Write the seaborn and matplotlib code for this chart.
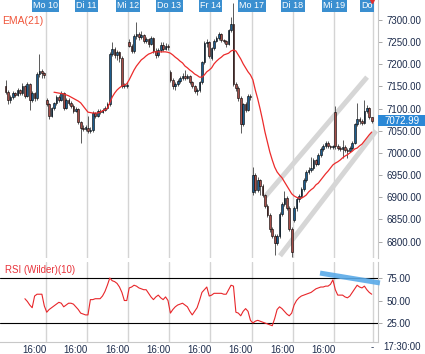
import numpy as np
import pandas as pd
import matplotlib
matplotlib.use("Agg")
import matplotlib.pyplot as plt
from matplotlib import transforms
from matplotlib.patches import Rectangle
import seaborn as sns

### DATA - 30 min candles, Fr 7 .. Mi 19 (17 bars per day)

day_labels = ["Mo 10", "Di 11", "Mi 12", "Do 13", "Fr 14", "Mo 17", "Di 18", "Mi 19", "Do"]
day_starts = [17, 34, 51, 68, 85, 102, 119, 136, 152]
time_ticks = [12, 29, 46, 63, 80, 97, 114, 131]
time_labels = ["16:00"] * 8

open_ = [
    7152, 7138, 7120, 7126, 7135, 7131, 7142, 7135, 7151, 7129, 7156, 7120, 7135, 7124, 7178, 7185, 7180,
    7120, 7110, 7083, 7101, 7113, 7126, 7120, 7135, 7101, 7120, 7113, 7106, 7095, 7099, 7070, 7056, 7054,
    7056, 7050, 7052, 7090, 7083, 7095, 7092, 7097, 7101, 7110, 7223, 7235, 7221, 7228, 7214, 7151, 7151,
    7250, 7241, 7230, 7264, 7268, 7262, 7266, 7253, 7257, 7246, 7259, 7230, 7221, 7232, 7244, 7235, 7241,
    7183, 7165, 7151, 7156, 7162, 7169, 7174, 7169, 7174, 7160, 7151, 7140, 7142, 7160, 7205, 7248, 7250,
    7214, 7237, 7253, 7259, 7268, 7255, 7253, 7246, 7277, 7291, 7156, 7147, 7124, 7065, 7110, 7097, 7129,
    6912, 6950, 6917, 6939, 6926, 6905, 6880, 6860, 6829, 6813, 6797, 6813, 6862, 6885, 6898, 6876, 6829,
    6849, 6876, 6896, 6903, 6919, 6939, 6957, 6962, 6966, 6984, 6975, 6996, 7009, 7016, 7023, 7016, 7014,
    7092, 7016, 7011, 7009, 7014, 7007, 7005, 7011, 7023, 7065, 7077, 7072, 7068, 7095, 7101, 7081,
]
high = [
    7165, 7142, 7130, 7140, 7138, 7147, 7145, 7158, 7153, 7160, 7158, 7140, 7138, 7182, 7224, 7190, 7183,
    7125, 7113, 7104, 7116, 7130, 7130, 7140, 7138, 7124, 7123, 7118, 7110, 7104, 7101, 7073, 7062, 7063,
    7083, 7058, 7094, 7092, 7099, 7098, 7101, 7105, 7116, 7228, 7250, 7240, 7233, 7230, 7218, 7158, 7160,
    7256, 7246, 7268, 7295, 7272, 7275, 7268, 7262, 7260, 7263, 7262, 7236, 7236, 7250, 7250, 7248, 7246,
    7186, 7168, 7160, 7166, 7173, 7180, 7187, 7178, 7176, 7163, 7153, 7146, 7163, 7208, 7252, 7258, 7253,
    7240, 7257, 7264, 7272, 7270, 7258, 7254, 7280, 7307, 7338, 7160, 7150, 7128, 7112, 7115, 7132, 7132,
    6968, 6955, 6945, 6942, 6930, 6908, 6885, 6864, 6833, 6818, 6818, 6866, 6890, 6915, 6902, 6880, 6832,
    6880, 6900, 6908, 6923, 6943, 6962, 6968, 6991, 6988, 6987, 7000, 7013, 7020, 7028, 7026, 7019, 7018,
    7106, 7020, 7016, 7029, 7018, 7012, 7015, 7026, 7068, 7113, 7080, 7076, 7120, 7108, 7103, 7082,
]
low = [
    7132, 7110, 7112, 7122, 7126, 7128, 7130, 7131, 7124, 7126, 7097, 7115, 7118, 7120, 7172, 7170, 7170,
    7106, 7076, 7080, 7097, 7108, 7115, 7117, 7097, 7098, 7108, 7102, 7090, 7092, 7066, 7023, 7050, 7050,
    7045, 7045, 7048, 7078, 7080, 7088, 7090, 7094, 7098, 7106, 7218, 7215, 7210, 7205, 7146, 7146, 7147,
    7238, 7225, 7226, 7258, 7255, 7258, 7248, 7248, 7240, 7243, 7226, 7214, 7216, 7228, 7230, 7232, 7233,
    7160, 7145, 7142, 7152, 7158, 7165, 7165, 7166, 7156, 7146, 7135, 7131, 7138, 7156, 7200, 7240, 7215,
    7210, 7233, 7250, 7255, 7250, 7248, 7240, 7243, 7272, 7150, 7140, 7118, 7045, 7060, 7092, 7094, 7120,
    6905, 6910, 6912, 6905, 6900, 6875, 6855, 6822, 6808, 6770, 6792, 6808, 6858, 6880, 6872, 6824, 6765,
    6845, 6870, 6890, 6898, 6915, 6934, 6952, 6958, 6962, 6970, 6972, 6990, 7004, 7012, 7012, 7010, 7009,
    7010, 7006, 7004, 6989, 7002, 6989, 7002, 7006, 7020, 7060, 7066, 7062, 7066, 7090, 7076, 7068,
]
close = [
    7138, 7120, 7126, 7135, 7131, 7142, 7135, 7151, 7129, 7156, 7120, 7135, 7124, 7178, 7185, 7180, 7176,
    7110, 7083, 7101, 7113, 7126, 7120, 7135, 7101, 7120, 7113, 7106, 7095, 7099, 7070, 7056, 7054, 7059,
    7050, 7052, 7090, 7083, 7095, 7092, 7097, 7101, 7110, 7223, 7235, 7221, 7228, 7214, 7151, 7151, 7153,
    7241, 7230, 7264, 7268, 7262, 7266, 7253, 7257, 7246, 7259, 7230, 7221, 7232, 7244, 7235, 7241, 7239,
    7165, 7151, 7156, 7162, 7169, 7174, 7169, 7174, 7160, 7151, 7140, 7142, 7160, 7205, 7248, 7250, 7219,
    7237, 7253, 7259, 7268, 7255, 7253, 7246, 7277, 7291, 7156, 7147, 7124, 7065, 7110, 7097, 7129, 7126,
    6950, 6917, 6939, 6926, 6905, 6880, 6860, 6829, 6813, 6797, 6813, 6862, 6885, 6898, 6876, 6829, 6777,
    6876, 6896, 6903, 6919, 6939, 6957, 6962, 6966, 6984, 6975, 6996, 7009, 7016, 7023, 7016, 7014, 7014,
    7016, 7011, 7009, 7014, 7007, 7005, 7011, 7023, 7065, 7077, 7072, 7068, 7095, 7101, 7081, 7072.99,
]

ema_start = 20
ema21 = [
    7137, 7136, 7135, 7134, 7133, 7131, 7129, 7126, 7123, 7120, 7117, 7113, 7106, 7099,
    7092, 7091, 7090, 7090, 7090, 7092, 7095, 7097, 7101, 7113, 7126, 7135, 7142, 7147, 7151, 7153, 7156,
    7165, 7176, 7187, 7196, 7203, 7210, 7214, 7219, 7223, 7225, 7228, 7228, 7228, 7228, 7228, 7228, 7227,
    7225, 7221, 7216, 7212, 7207, 7203, 7196, 7192, 7187, 7183, 7178, 7175, 7171, 7171, 7176, 7183, 7187,
    7192, 7201, 7207, 7212, 7216, 7221, 7223, 7225, 7230, 7232, 7230, 7221, 7212, 7201, 7192, 7183, 7176,
    7165, 7142, 7122, 7099, 7074, 7047, 7025, 7002, 6984, 6968, 6957, 6950, 6944, 6935, 6926, 6917, 6908,
    6903, 6900, 6898, 6898, 6901, 6905, 6912, 6917, 6921, 6928, 6932, 6939, 6946, 6953, 6959, 6966, 6973,
    6977, 6980, 6984, 6989, 6993, 6996, 7000, 7004, 7009, 7011, 7016, 7020, 7027, 7034, 7041, 7047,
]

rsi_start = 8
rsi10 = [
    52, 49, 45, 42, 55, 57, 57, 57, 44,
    37, 40, 42, 44, 46, 48, 47, 43, 45, 47, 47, 46, 43, 40, 36, 35, 34,
    34, 51, 51, 52, 52, 52, 55, 60, 67, 75, 72, 71, 69, 65, 59, 50, 50,
    64, 65, 67, 66, 64, 63, 62, 62, 58, 54, 51, 54, 56, 53, 51, 54, 50,
    36, 40, 43, 45, 46, 47, 45, 43, 38, 34, 38, 42, 50, 59, 62, 65, 55,
    56, 58, 58, 58, 58, 57, 57, 62, 67, 66, 37, 36, 33, 38, 41, 38, 28,
    25, 27, 28, 27, 26, 25, 24, 23, 22, 30, 40, 43, 41, 38, 35, 33, 36,
    45, 50, 53, 55, 56, 57, 58, 59, 61, 63, 64, 65, 65, 66, 66, 68, 73,
    62, 56, 56, 56, 54, 53, 55, 59, 63, 67, 65, 64, 66, 62, 59, 57,
]

# drawn trend channel (bar, price) and RSI trend line (bar, rsi)
channel_upper = ([107.0, 149.1], [6901, 7171])
channel_lower = ([113.2, 152.8], [6768, 7050])
rsi_trend = ([129.7, 154.4], [80.5, 69.5])

price_ticks = [6800, 6850, 6900, 6950, 7000, 7050, 7100, 7150, 7200, 7250, 7300]
rsi_ticks = [25, 50, 75]
rsi_bands = [25, 75]
last_price = close[-1]

### STYLE

sns.set_theme(style="white")
plt.rcParams["font.family"] = ["Liberation Sans", "DejaVu Sans"]

UP = "#1d5d8e"
DOWN = "#a64f4a"
GRID = "#d4d4d4"
TXT = "#1e2d4d"
LABEL_BLUE = "#3a8fd0"

fig = plt.figure(figsize=(4.25, 3.54), dpi=100)
ax = fig.add_axes([0, 96 / 354, 378 / 425, 258 / 354])
ax2 = fig.add_axes([0, 12 / 354, 378 / 425, 80 / 354])

xmin, xmax = -2.27, 153.6

### CANDLES

df = pd.DataFrame({"open": open_, "high": high, "low": low, "close": close})
df["bar"] = np.arange(len(df))
up = df["close"] >= df["open"]
body_bottom = df[["open", "close"]].min(axis=1)
body_height = (df["close"] - df["open"]).abs().clip(lower=1.5)

for d in day_starts:
    ax.axvline(d - 0.5, color=GRID, linewidth=1.0, zorder=0)
    ax2.axvline(d - 0.5, color=GRID, linewidth=1.0, zorder=0)

ax.plot(*channel_upper, color="#d6d6d6", linewidth=3.6, solid_capstyle="butt", zorder=1)
ax.plot(*channel_lower, color="#d6d6d6", linewidth=3.6, solid_capstyle="butt", zorder=1)

ax.vlines(df["bar"], df["low"], df["high"], color="#5a5a5a", linewidth=0.7, zorder=2)
ax.bar(df["bar"], body_height, bottom=body_bottom, width=0.7,
       color=np.where(up, UP, DOWN), edgecolor="black", linewidth=0.4, zorder=3)

ema_df = pd.DataFrame({"bar": np.arange(ema_start, ema_start + len(ema21)), "ema": ema21})
sns.lineplot(data=ema_df, x="bar", y="ema", ax=ax, color="#ec2b2b", linewidth=0.9, zorder=4)

ax.set_xlim(xmin, xmax)
ax.set_ylim(6763, 7345)
ax.set_xlabel("")
ax.set_ylabel("")
ax.set_xticks([])
ax.yaxis.tick_right()
ax.set_yticks(price_ticks)
ax.set_yticklabels([f"{p:.2f}" for p in price_ticks])
ax.tick_params(axis="y", right=True, length=3, width=0.6, color="#9a9a9a",
               pad=3, labelsize=7, labelcolor=TXT)
for s in ["top", "left", "bottom"]:
    ax.spines[s].set_visible(False)
ax.spines["right"].set_color("#c8c8c8")
ax.spines["right"].set_linewidth(0.8)

# day labels at the top
top_tr = transforms.blended_transform_factory(ax.transData, ax.transAxes)
for lab, d in zip(day_labels, day_starts):
    xpos = d - 0.5 if lab != "Do" else 149.0
    ax.text(xpos, 1 - 1.5 / 258, lab, transform=top_tr, ha="center", va="top",
            fontsize=6.5, color="white", zorder=6,
            bbox=dict(boxstyle="square,pad=0.15", fc=LABEL_BLUE, ec="none"))
ax.plot([151.3], [1 - 1.0 / 258], marker="v", markersize=3, color="#e03030",
        transform=top_tr, clip_on=False, zorder=7)

# current price box
side_tr = transforms.blended_transform_factory(ax.transAxes, ax.transData)
ax.add_patch(Rectangle((1.0, last_price - 12.5), 47 / 378, 25, transform=side_tr,
                       fc="#2b88d6", ec="none", clip_on=False, zorder=6))
ax.text(1.0 + 6 / 378, last_price, f"{last_price:.2f}", transform=side_tr,
        ha="left", va="center", fontsize=7, color="white", zorder=7, clip_on=False)

fig.text(2 / 425, 1 - 21 / 354, "EMA(21)", ha="left", va="center", fontsize=7.5, color="#f0553a")

### RSI PANEL

rsi_df = pd.DataFrame({"bar": np.arange(rsi_start, rsi_start + len(rsi10)), "rsi": rsi10})
sns.lineplot(data=rsi_df, x="bar", y="rsi", ax=ax2, color="#e8262a", linewidth=0.8, zorder=4)
for b in rsi_bands:
    ax2.axhline(b, color="black", linewidth=0.8, zorder=3)
ax2.plot(*rsi_trend, color="#5aaae8", linewidth=3.6, alpha=0.9, solid_capstyle="butt",
         clip_on=False, zorder=5)

ax2.set_xlim(xmin, xmax)
ax2.set_ylim(3.9, 92.8)
ax2.set_xlabel("")
ax2.set_ylabel("")
ax2.set_xticks(time_ticks)
ax2.set_xticklabels(time_labels)
ax2.tick_params(axis="x", length=0, pad=2, labelsize=7, labelcolor=TXT)
ax2.yaxis.tick_right()
ax2.set_yticks(rsi_ticks)
ax2.set_yticklabels([f"{v:.2f}" for v in rsi_ticks])
ax2.tick_params(axis="y", right=True, length=3, width=0.6, color="#9a9a9a",
                pad=3, labelsize=7, labelcolor=TXT)
for s in ["top", "left"]:
    ax2.spines[s].set_visible(False)
for s in ["right", "bottom"]:
    ax2.spines[s].set_color("#c8c8c8")
    ax2.spines[s].set_linewidth(0.8)

fig.text(5 / 425, 1 - 270 / 354, "RSI (Wilder)(10)", ha="left", va="center", fontsize=7, color="#e8323a")
fig.text(372 / 425, 1 - 347 / 354, "-", ha="center", va="center", fontsize=7, color=TXT)
fig.text(402 / 425, 1 - 347 / 354, "17:30:00", ha="center", va="center", fontsize=7, color=TXT)

fig.savefig("out.png", dpi=100)
